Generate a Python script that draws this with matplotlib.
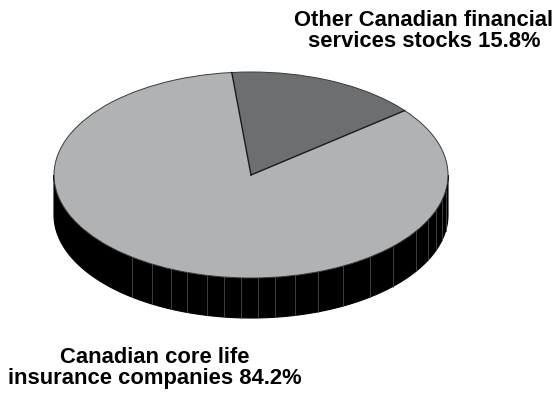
import numpy as np
import matplotlib.pyplot as plt
from matplotlib.patches import Wedge, Polygon
from matplotlib.transforms import Affine2D

# Portfolio split (percent)
labels = ["Canadian core life\ninsurance companies 84.2%",
          "Other Canadian financial\nservices stocks 15.8%"]
shares = [84.2, 15.8]
top_colors = ["#b1b2b4", "#6d6e70"]

# Pie geometry in pixel units (y up)
cx, cy = 251, 219
rx, ry = 197, 103
depth = 40
start_angle = 95.6

# Angles where the rim facets show a seam
facet_angles = [233, 240, 246, 251, 257, 262, 267, 272, 277, 283, 290,
                298, 307, 316, 327, 334, 340, 346, 351]

fig = plt.figure(figsize=(5.59, 3.94), dpi=100)
ax = fig.add_axes([0, 0, 1, 1])
ax.set_xlim(0, 559)
ax.set_ylim(0, 394)
ax.axis("off")

# ellipse transform: unit circle -> squashed top face
ell = Affine2D().scale(rx, ry).translate(cx, cy) + ax.transData

# rim (front half of the cylinder)
t = np.radians(np.linspace(180, 360, 200))
top_x = cx + rx * np.cos(t)
top_y = cy + ry * np.sin(t)
rim = np.column_stack([np.r_[top_x, top_x[::-1]],
                       np.r_[top_y, top_y[::-1] - depth]])
ax.add_patch(Polygon(rim, closed=True, facecolor="black", edgecolor="black", lw=0.8))
for a in facet_angles:
    r = np.radians(a)
    x = cx + rx * np.cos(r)
    y = cy + ry * np.sin(r)
    ax.plot([x, x], [y, y - depth], color="#4a4a4a", lw=0.6)

# top face wedges
theta = start_angle
for share, col in zip(shares, top_colors):
    span = share / 100 * 360
    ax.add_patch(Wedge((0, 0), 1, theta, theta + span, facecolor=col,
                       edgecolor="none", transform=ell))
    theta += span

# outline and slice separators
ax.add_patch(Wedge((0, 0), 1, 0, 360, facecolor="none", edgecolor="#3a3a3a",
                   lw=0.7, transform=ell))
theta = start_angle
for share in shares:
    r = np.radians(theta)
    ax.plot([cx, cx + rx * np.cos(r)], [cy, cy + ry * np.sin(r)], color="#1a1a1a", lw=1.0)
    theta += share / 100 * 360

font = dict(family="Liberation Sans", fontsize=15.8, fontweight="bold",
            ha="center", va="center", linespacing=1.0)
ax.text(424, 363, labels[1], **font)
ax.text(155, 26, labels[0], **font)

fig.savefig("out.png", dpi=100)
